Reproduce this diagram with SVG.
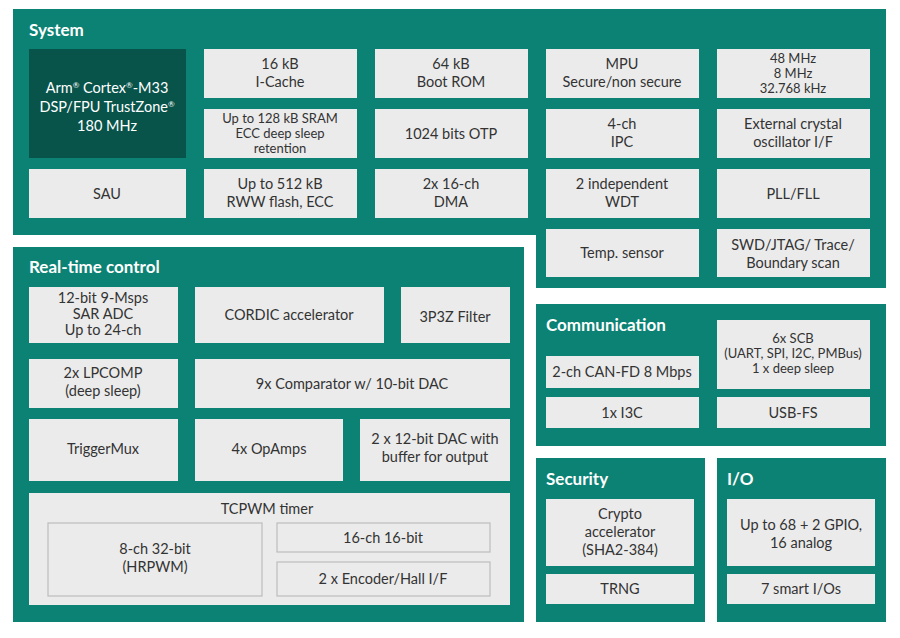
<svg xmlns="http://www.w3.org/2000/svg" width="900" height="638" viewBox="0 0 900 638">
<style>
.p{fill:#0C8274}
.b{fill:#EBEBEB}
.ib{fill:#EBEBEB;stroke:#BDBDBD;stroke-width:1.2}
text{font-family:Lato,"Noto Sans",sans-serif;font-size:14.5px;fill:#333;text-anchor:middle}
.t{font-size:17px;font-weight:bold;fill:#fff;text-anchor:start}
.w{fill:#fff}
.s{font-size:13px}
.r{font-size:8px}
</style>
<rect width="900" height="638" fill="#fff"/>
<g id="system">
<path class="p" d="M13,9H886V288H536V235H13Z"/>
<text class="t" x="29" y="36">System</text>
</g>
<g id="arm"><rect x="29" y="49" width="157" height="109" fill="#08534A"/>
<text class="w" x="107" y="93">Arm<tspan class="r" dy="-5">®</tspan><tspan dy="5"> Cortex</tspan><tspan class="r" dy="-5">®</tspan><tspan dy="5">-M33</tspan></text>
<text class="w" x="107" y="112">DSP/FPU TrustZone<tspan class="r" dy="-5">®</tspan></text>
<text class="w" x="107" y="131">180 MHz</text></g>
<g id="sau"><rect class="b" x="29" y="169" width="157" height="49"/><text x="107" y="199">SAU</text></g>
<g id="icache"><rect class="b" x="204" y="49" width="153" height="49"/><text x="280" y="69">16  kB</text><text x="280" y="87">I-Cache</text></g>
<g id="sram"><rect class="b" x="204" y="109" width="153" height="49"/><text class="s" x="280" y="123">Up to 128 kB SRAM</text><text class="s" x="280" y="138">ECC deep sleep</text><text class="s" x="280" y="153">retention</text></g>
<g id="flash"><rect class="b" x="204" y="169" width="153" height="49"/><text x="280" y="189">Up to 512 kB</text><text x="280" y="207">RWW flash, ECC</text></g>
<g id="rom"><rect class="b" x="375" y="49" width="153" height="49"/><text x="451" y="69">64 kB</text><text x="451" y="87">Boot ROM</text></g>
<g id="otp"><rect class="b" x="375" y="109" width="153" height="49"/><text x="451" y="139">1024 bits OTP</text></g>
<g id="dma"><rect class="b" x="375" y="169" width="153" height="49"/><text x="451" y="189">2x 16-ch</text><text x="451" y="207">DMA</text></g>
<g id="mpu"><rect class="b" x="546" y="49" width="153" height="49"/><text x="622" y="69">MPU</text><text x="622" y="87">Secure/non secure</text></g>
<g id="ipc"><rect class="b" x="546" y="109" width="153" height="49"/><text x="622" y="129">4-ch</text><text x="622" y="147">IPC</text></g>
<g id="wdt"><rect class="b" x="546" y="169" width="153" height="49"/><text x="622" y="189">2 independent</text><text x="622" y="207">WDT</text></g>
<g id="temp"><rect class="b" x="546" y="229" width="153" height="48"/><text x="622" y="258">Temp. sensor</text></g>
<g id="clk"><rect class="b" x="717" y="49" width="153" height="49"/><text class="s" x="793" y="63">48 MHz</text><text class="s" x="793" y="78">8 MHz</text><text class="s" x="793" y="93">32.768 kHz</text></g>
<g id="xtal"><rect class="b" x="717" y="109" width="153" height="49"/><text x="793" y="129">External crystal</text><text x="793" y="147">oscillator I/F</text></g>
<g id="pll"><rect class="b" x="717" y="169" width="153" height="49"/><text x="793" y="199">PLL/FLL</text></g>
<g id="swd"><rect class="b" x="717" y="229" width="153" height="48"/><text x="793" y="250">SWD/JTAG/ Trace/</text><text x="793" y="268">Boundary scan</text></g>

<g id="rtc"><rect class="p" x="13" y="247" width="511" height="375"/><text class="t" x="29" y="273">Real-time control</text></g>
<g id="adc"><rect class="b" x="29" y="287" width="149" height="56"/><text x="103" y="303">12-bit 9-Msps</text><text x="103" y="319">SAR ADC</text><text x="103" y="335">Up to 24-ch</text></g>
<g id="cordic"><rect class="b" x="195" y="287" width="189" height="56"/><text x="289" y="320">CORDIC accelerator</text></g>
<g id="filter"><rect class="b" x="401" y="287" width="109" height="56"/><text x="455" y="322">3P3Z Filter</text></g>
<g id="lpcomp"><rect class="b" x="29" y="359" width="149" height="49"/><text x="103" y="378">2x LPCOMP</text><text x="103" y="396">(deep sleep)</text></g>
<g id="comp"><rect class="b" x="195" y="359" width="315" height="49"/><text x="352" y="389">9x Comparator w/ 10-bit DAC</text></g>
<g id="tmux"><rect class="b" x="29" y="419" width="149" height="62"/><text x="103" y="454">TriggerMux</text></g>
<g id="opamp"><rect class="b" x="195" y="419" width="148" height="62"/><text x="269" y="454">4x OpAmps</text></g>
<g id="dac"><rect class="b" x="360" y="419" width="150" height="62"/><text x="435" y="444">2 x 12-bit DAC with</text><text x="435" y="462">buffer for output</text></g>
<g id="tcpwm"><rect class="b" x="29" y="493" width="481" height="112"/><text x="267" y="514">TCPWM timer</text>
<rect class="ib" x="48" y="523" width="214" height="73"/><text x="155" y="554">8-ch 32-bit</text><text x="155" y="572">(HRPWM)</text>
<rect class="ib" x="277" y="523" width="213" height="29"/><text x="383" y="543">16-ch 16-bit</text>
<rect class="ib" x="277" y="562" width="213" height="34"/><text x="383" y="584">2 x Encoder/Hall I/F</text></g>

<g id="comm"><rect class="p" x="536" y="304" width="350" height="142"/><text class="t" x="546" y="331">Communication</text></g>
<g id="can"><rect class="b" x="546" y="356" width="153" height="32"/><text x="622" y="377">2-ch CAN-FD 8 Mbps</text></g>
<g id="i3c"><rect class="b" x="546" y="397" width="153" height="31"/><text x="622" y="418">1x I3C</text></g>
<g id="scb"><rect class="b" x="717" y="320" width="153" height="69"/><text class="s" x="793" y="343">6x SCB</text><text class="s" x="793" y="358">(UART, SPI, I2C, PMBus)</text><text class="s" x="793" y="373">1 x deep sleep</text></g>
<g id="usb"><rect class="b" x="717" y="397" width="153" height="31"/><text x="793" y="418">USB-FS</text></g>

<g id="sec"><rect class="p" x="536" y="458" width="169" height="164"/><text class="t" x="546" y="485">Security</text></g>
<g id="crypto"><rect class="b" x="546" y="499" width="148" height="67"/><text x="620" y="519">Crypto</text><text x="620" y="537">accelerator</text><text x="620" y="555">(SHA2-384)</text></g>
<g id="trng"><rect class="b" x="546" y="574" width="148" height="30"/><text x="620" y="594">TRNG</text></g>
<g id="io"><rect class="p" x="717" y="458" width="169" height="164"/><text class="t" x="727" y="485">I/O</text></g>
<g id="gpio"><rect class="b" x="727" y="499" width="148" height="67"/><text x="801" y="530">Up to 68 + 2 GPIO,</text><text x="801" y="548">16 analog</text></g>
<g id="smart"><rect class="b" x="727" y="574" width="148" height="30"/><text x="801" y="594">7 smart I/Os</text></g>
<g id="connectors"/>
</svg>
